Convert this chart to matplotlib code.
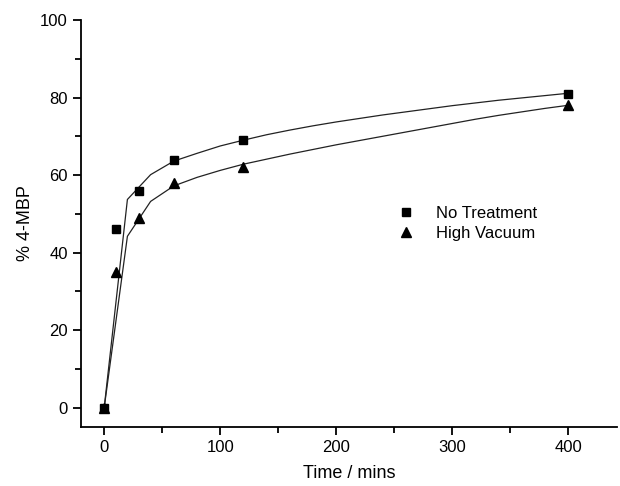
import matplotlib
matplotlib.use('Agg')
from matplotlib import pyplot as plt
from matplotlib.ticker import MultipleLocator

plt.rcParams['font.family'] = ['Liberation Sans', 'DejaVu Sans']

# measured points
time = [0, 10, 30, 60, 120, 400]
no_treatment = [0, 46, 56, 64, 69, 81]
high_vacuum = [0, 35, 49, 58, 62, 78]

# fitted curves, every 20 mins
fit_time = [0, 20, 40, 60, 80, 100, 120, 140, 160, 180, 200,
            220, 240, 260, 280, 300, 320, 340, 360, 380, 400]
fit_no_treatment = [0, 53.7, 60.1, 63.6, 65.6, 67.5, 69.0, 70.4, 71.6, 72.7, 73.7,
                    74.6, 75.5, 76.3, 77.1, 77.9, 78.6, 79.3, 79.9, 80.5, 81.1]
fit_high_vacuum = [0, 44.2, 53.2, 57.2, 59.4, 61.2, 62.8, 64.1, 65.4, 66.6, 67.8,
                   68.9, 70.0, 71.1, 72.2, 73.3, 74.4, 75.4, 76.3, 77.2, 78.0]

fig = plt.figure(figsize=(6.2, 4.86), dpi=100)
ax = fig.add_axes([81/620, 59/486, 536/620, 407/486])

ax.plot(fit_time, fit_no_treatment, '-', color='#222222', lw=0.9)
ax.plot(fit_time, fit_high_vacuum, '-', color='#222222', lw=0.9)
ax.plot(time, no_treatment, 's', color='black', ms=5.5, label='No Treatment')
ax.plot(time, high_vacuum, '^', color='black', ms=6.5, label='High Vacuum')

ax.set_xlim(-20, 442)
ax.set_ylim(-5, 100)
ax.xaxis.set_major_locator(MultipleLocator(100))
ax.xaxis.set_minor_locator(MultipleLocator(50))
ax.yaxis.set_major_locator(MultipleLocator(20))
ax.yaxis.set_minor_locator(MultipleLocator(10))
ax.spines['top'].set_visible(False)
ax.spines['right'].set_visible(False)
for s in ('left', 'bottom'):
    ax.spines[s].set_linewidth(1.3)
ax.tick_params(which='major', direction='out', length=6, width=1.3, labelsize=12)
ax.tick_params(which='minor', direction='out', length=4, width=1.3)

ax.set_xlabel('Time / mins', fontsize=13, labelpad=7)
ax.set_ylabel('% 4-MBP', fontsize=13, labelpad=4)

ax.legend(loc='center left', bbox_to_anchor=(0.56, 0.5), frameon=False,
          fontsize=12, handletextpad=0.8, labelspacing=0.3, borderpad=0)

fig.savefig('out.png', dpi=100)
